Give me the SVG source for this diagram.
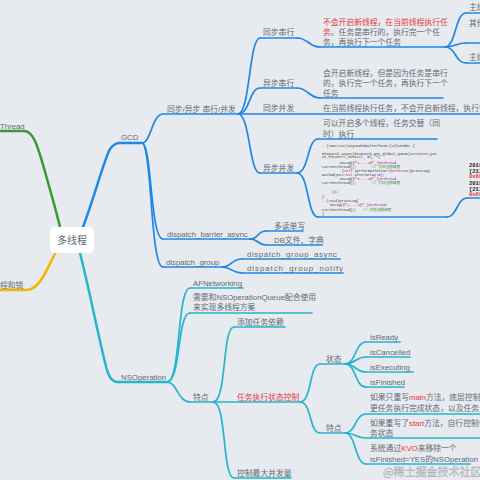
<svg xmlns="http://www.w3.org/2000/svg" width="480" height="480" viewBox="0 0 480 480">
<style>
.t{font-family:"Liberation Sans","Noto Sans CJK SC",sans-serif;font-size:7.8px;fill:#5f6b76}
.ct{font-family:"Liberation Sans","Noto Sans CJK SC",sans-serif;font-size:10px;fill:#5f6b76}
.r{fill:#e5383d}
.cd{font-family:"Liberation Mono","Noto Sans CJK SC",monospace;font-size:3.6px;fill:#333}
.kw{fill:#aa0d91}.st{fill:#c41a16}.cm{fill:#1f8f1f}.mc{fill:#8a4b1c}.nm{fill:#1c00cf}
.out{font-family:"Liberation Mono",monospace;font-size:5.5px;font-weight:bold;fill:#222}
.b{fill:none;stroke:#1e88e5;stroke-width:1.7;stroke-linecap:round}
.bm{fill:none;stroke:#1e88e5;stroke-width:2.5;stroke-linecap:round}
.c{fill:none;stroke:#24b6ce;stroke-width:1.7;stroke-linecap:round}
.cmn{fill:none;stroke:#24b6ce;stroke-width:2.5;stroke-linecap:round}
.g{fill:none;stroke:#3a9a30;stroke-width:2.5}
.o{fill:none;stroke:#f6b400;stroke-width:2.5}
</style>
<rect width="480" height="480" fill="#e7eaee"/>
<g id="connectors">
<path class="g" d="M-2,131 H24 C34,131 38,148 44,168 C50,190 56,210 60,227"/>
<path class="o" d="M-2,290 H26 C40,290 46,270 56,252"/>
<path class="bm" d="M83,227 C95,195 104,160 110,149 C113,145 115,143 119,143"/>
<path class="cmn" d="M80,253 C90,292 100,345 107,370 C110,379 113,382 118,382"/>
<path class="b" d="M142,143 C151,143 152,114 163,114"/>
<path class="b" d="M142,143 C152,143 150,239 163,239"/>
<path class="b" d="M142,143 C152,143 150,267 163,267"/>
<path class="b" d="M238,114 C250,114 249,38 260,38"/>
<path class="b" d="M238,114 C250,114 249,88 260,88"/>
<path class="b" d="M238,114 C250,114 249,173 260,173"/>
<path class="b" d="M297,38 C308,38 309,47 320,47"/>
<path class="b" d="M297,88 C308,88 309,98 320,98"/>
<path class="b" d="M297,173 C309,173 307,139 318,139"/>
<path class="b" d="M297,173 C309,173 307,217 318,217"/>
<path class="b" d="M445,47 C456,47 455,13 466,13"/>
<path class="b" d="M445,47 C456,47 455,43 466,43"/>
<path class="b" d="M445,47 C456,47 455,63 466,63"/>
<path class="b" d="M447,217 C457,217 457,198 467,198"/>
<path class="b" d="M250,239 C259,239 257,231 266,231"/>
<path class="b" d="M250,239 C259,239 257,245 266,245"/>
<path class="b" d="M222,267 C232,267 231,259 242,259"/>
<path class="b" d="M222,267 C232,267 231,273 242,273"/>
<path class="c" d="M167,382 C181,382 177,288 190,288"/>
<path class="c" d="M167,382 C181,382 177,313 190,313"/>
<path class="c" d="M167,382 C177,382 178,402 190,402"/>
<path class="c" d="M213,402 C227,402 222,327 234,327"/>
<path class="c" d="M213,402 C227,402 222,478 234,478"/>
<path class="c" d="M300,402 C312,402 309,364 320,364"/>
<path class="c" d="M300,402 C312,402 309,433 320,433"/>
<path class="c" d="M345,364 C356,364 355,342 366,342"/>
<path class="c" d="M345,364 C356,364 355,357 366,357"/>
<path class="c" d="M345,364 C356,364 355,372 366,372"/>
<path class="c" d="M345,364 C356,364 355,387 366,387"/>
<path class="c" d="M345,433 C356,433 355,414 366,414"/>
<path class="c" d="M345,433 C356,433 355,438 366,438"/>
<path class="c" d="M345,433 C356,433 355,464 366,464"/>
</g>
<g id="root"><rect x="50" y="227" width="44" height="26" rx="5" fill="#fff"/><text class="ct" x="72" y="244" text-anchor="middle">多线程</text></g>
<g id="thread"><text class="t" x="0" y="129">Thread</text></g>
<g id="lock"><text class="t" x="0" y="288">程和锁</text></g>
<g id="gcd"><path class="bm" d="M119,143 H142"/><text class="t" x="121" y="140">GCD</text></g>
<g id="sync-async"><path class="b" d="M163,114 H238"/><text class="t" x="167" y="112">同步/异步 串行/并发</text></g>
<g id="sync-serial"><path class="b" d="M260,38 H297"/><text class="t" x="263" y="35">同步串行</text></g>
<g id="async-serial"><path class="b" d="M260,88 H297"/><text class="t" x="263" y="86">异步串行</text></g>
<g id="sync-concurrent"><path class="b" d="M238,114 H482"/><text class="t" x="263" y="111">同步并发</text></g>
<g id="async-concurrent"><path class="b" d="M260,173 H297"/><text class="t" x="263" y="170.5">异步并发</text></g>
<g id="sync-serial-desc"><path class="b" d="M320,47 H445"/>
<text class="t" x="323" y="24.5"><tspan class="r">不会开启新线程，在当前线程执行任</tspan></text>
<text class="t" x="323" y="35"><tspan class="r">务</tspan>。任务是串行的，执行完一个任</text>
<text class="t" x="323" y="45.3">务，再执行下一个任务</text></g>
<g id="main1"><path class="b" d="M466,13 H482"/><text class="t" x="469" y="10">主线</text></g>
<g id="other"><path class="b" d="M466,43 H482"/><text class="t" x="469" y="26">其他</text></g>
<g id="main2"><path class="b" d="M466,63 H482"/><text class="t" x="469" y="60">主线</text></g>
<g id="async-serial-desc"><path class="b" d="M320,98 H443"/>
<text class="t" x="323" y="75.5">会开启新线程，但是因为任务是串行</text>
<text class="t" x="323" y="86">的，执行完一个任务，再执行下一个</text>
<text class="t" x="323" y="96.3">任务</text></g>
<g id="sync-concurrent-desc"><text class="t" x="323" y="111">在当前线程执行任务，不会开启新线程，执行完一个</text></g>
<g id="async-concurrent-desc"><path class="b" d="M318,139 H437"/>
<text class="t" x="323" y="126">可以开启多个线程，任务交替（同</text>
<text class="t" x="323" y="136.5">时）执行</text></g>
<g id="code"><path class="b" d="M318,217 H447"/>
<text class="cd" x="322" y="146.5">- (<tspan class="mc">IBAction</tspan>)asyncGlobalPerform:(<tspan class="kw">id</tspan>)sender {</text>
<text class="cd" x="322" y="154.5">dispatch_async(dispatch_get_global_queue(<tspan class="mc">DISPATCH_QUE</tspan></text>
<text class="cd" x="322" y="158"><tspan class="mc">UE_PRIORITY_DEFAULT</tspan>, <tspan class="nm">0</tspan>), ^{</text>
<text class="cd" x="340" y="163.5">NSLog(<tspan class="st">@"1----%@"</tspan>,[<tspan class="kw">NSThread</tspan></text>
<text class="cd" x="322" y="167.5">currentThread]);</text><text class="cd cm" x="372" y="167.5">// 打印当前线程</text>
<text class="cd" x="342" y="172">[<tspan class="kw">self</tspan> performSelector:<tspan class="kw">@selector</tspan>(printLog)</text>
<text class="cd" x="322" y="176">withObject:<tspan class="kw">nil</tspan> afterDelay:<tspan class="nm">0</tspan>];</text>
<text class="cd" x="340" y="180">NSLog(<tspan class="st">@"3----%@"</tspan>,[<tspan class="kw">NSThread</tspan></text>
<text class="cd" x="322" y="184">currentThread]);</text><text class="cd cm" x="372" y="184">// 打印当前线程</text>
<text class="cd" x="332" y="193">});</text>
<text class="cd" x="322" y="197.5">}</text>
<text class="cd" x="322" y="201.5">- (<tspan class="kw">void</tspan>)printLog{</text>
<text class="cd" x="330" y="206">NSLog(<tspan class="st">@"2----%@"</tspan>,[<tspan class="kw">NSThread</tspan></text>
<text class="cd" x="322" y="210.5">currentThread]);</text><text class="cd cm" x="363" y="210.5">// 打印当前线程</text>
<text class="cd" x="322" y="215">}</text></g>
<g id="output"><path class="b" d="M467,198 H482"/>
<text class="out" x="469" y="167">2018</text>
<text class="out" x="469" y="172.5">[213</text>
<text class="out" x="469" y="178" style="fill:#e5383d">0x60</text>
<text class="out" x="469" y="185">2018</text>
<text class="out" x="469" y="190.5">[213</text>
<text class="out" x="469" y="196" style="fill:#e5383d">0x60</text></g>
<g id="barrier"><path class="b" d="M163,239 H250"/><text class="t" x="167" y="236.5">dispatch_barrier_async</text></g>
<g id="multi-read"><path class="b" d="M266,231 H303"/><text class="t" x="274" y="229">多读单写</text></g>
<g id="db"><path class="b" d="M266,245 H322"/><text class="t" x="274" y="243">DB文件、字典</text></g>
<g id="group"><path class="b" d="M163,267 H222"/><text class="t" x="166" y="264.5">dispatch_group</text></g>
<g id="group-async"><path class="b" d="M242,259 H340"/><text class="t" x="247" y="257" textLength="90" lengthAdjust="spacing">dispatch_group_async</text></g>
<g id="group-notify"><path class="b" d="M242,273 H343"/><text class="t" x="247" y="271" textLength="96" lengthAdjust="spacing">dispatch_group_notify</text></g>
<g id="nsoperation"><path class="cmn" d="M118,382 H167"/><text class="t" x="121" y="380">NSOperation</text></g>
<g id="afn"><path class="c" d="M190,288 H243"/><text class="t" x="193" y="285.5">AFNetworking</text></g>
<g id="queue"><path class="c" d="M190,313 H312"/>
<text class="t" x="193" y="299.5">需要和NSOperationQueue配合使用</text>
<text class="t" x="193" y="310">来实现多线程方案</text></g>
<g id="feature"><path class="c" d="M190,402 H213"/><text class="t" x="193" y="400">特点</text></g>
<g id="dependency"><path class="c" d="M234,327 H285"/><text class="t" x="237" y="324.5">添加任务依赖</text></g>
<g id="state-control"><path class="c" d="M213,402 H300"/><text class="t r" x="237" y="400">任务执行状态控制</text></g>
<g id="max-concurrent"><path class="c" d="M234,478 H291"/><text class="t" x="237" y="475.5">控制最大并发量</text></g>
<g id="state"><path class="c" d="M320,364 H345"/><text class="t" x="326" y="361.5">状态</text></g>
<g id="feature2"><path class="c" d="M320,433 H345"/><text class="t" x="326" y="430.5">特点</text></g>
<g id="isready"><path class="c" d="M366,342 H400"/><text class="t" x="370" y="340">isReady</text></g>
<g id="iscancelled"><path class="c" d="M366,357 H410"/><text class="t" x="370" y="355">isCancelled</text></g>
<g id="isexecuting"><path class="c" d="M366,372 H413"/><text class="t" x="370" y="370">isExecuting</text></g>
<g id="isfinished"><path class="c" d="M366,387 H404"/><text class="t" x="370" y="385">isFinished</text></g>
<g id="main-method"><path class="c" d="M366,414 H482"/>
<text class="t" x="370" y="400">如果只重写<tspan class="r">main</tspan>方法，底层控制变</text>
<text class="t" x="370" y="411">更任务执行完成状态，以及任务退</text></g>
<g id="start-method"><path class="c" d="M366,438 H482"/>
<text class="t" x="370" y="425.5">如果重写了<tspan class="r">start</tspan>方法，自行控制任</text>
<text class="t" x="370" y="436">务状态</text></g>
<g id="kvo"><path class="c" d="M366,464 H470"/>
<text class="t" x="370" y="451">系统通过<tspan class="r">KVO</tspan>来移除一个</text>
<text class="t" x="370" y="461.5">isFinished=YES的NSOperation</text></g>
<text x="383" y="476" font-family="'Noto Sans CJK SC',sans-serif" font-size="11" fill="#c3c7cc" stroke="#aab0b6" stroke-width="0.3">@稀土掘金技术社区</text>
</svg>
